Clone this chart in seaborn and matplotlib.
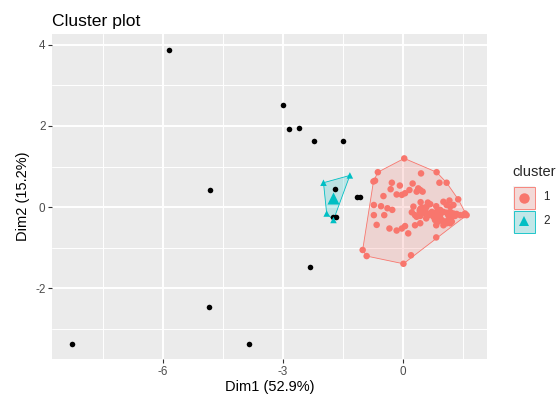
import numpy as np
import pandas as pd
import matplotlib
matplotlib.use("Agg")
import matplotlib.pyplot as plt
from matplotlib.colors import to_rgba
from matplotlib.patches import Rectangle
from matplotlib.lines import Line2D
import seaborn as sns

# noise points (no cluster), drawn in black
noise_x = [-5.85, -4.84, -2.99, -2.86, -2.59, -2.22, -1.49, -1.71, -1.15, -1.08,
           -1.74, -1.67, -2.32, -4.85, -8.28, -3.85]
noise_y = [3.88, 0.41, 2.52, 1.92, 1.94, 1.63, 1.63, 0.44, 0.24, 0.24,
           -0.25, -0.25, -1.47, -2.47, -3.38, -3.39]

# cluster 1
c1_x = [0.03, -0.63, -0.74, -1.01, -0.91, 0.01, 0.20, 0.83, 1.59, 1.38, 0.84,
        -0.70, -0.28, -0.08, 0.24, 0.45, 0.91, 1.09, -0.31, 0.16, -0.16, -0.03,
        0.05, 0.34, 0.43, 0.49, 0.38, -0.49, -0.73, -0.55, -0.39, -0.27, 0.26,
        0.44, 0.22, -0.73, -0.47, -0.66, -0.34, -0.16, -0.03, 0.05, 0.13, 0.30,
        0.43, 0.62, 0.68, 0.59, 0.83, 1.01, 1.16, 1.09, 1.18, 1.26, 0.51, 0.55,
        0.72, 0.84, 0.93, 1.01, 1.09, 1.18, 1.26, 1.34, 1.43, 1.51, 1.55, 1.30,
        1.22, 1.13, 0.80, 0.88, 0.97, 1.05, 1.13, 1.22, 0.83, 1.01, 1.09, 1.18,
        0.84, 0.93, 0.76, 0.68, 0.64, 0.58, 0.34, 0.43, 0.30]
c1_y = [1.20, 0.86, 0.63, -1.06, -1.21, -1.40, -1.19, -0.75, -0.20, 0.19, 0.86,
        0.65, 0.60, 0.53, 0.58, 0.83, 0.60, 0.60, 0.44, 0.42, 0.31, 0.30,
        0.34, 0.38, 0.42, 0.38, 0.46, 0.27, 0.05, 0.02, -0.03, -0.07, 0.01,
        0.12, -0.13, -0.20, -0.20, -0.44, -0.53, -0.58, -0.53, -0.47, -0.65, -0.45,
        -0.40, 0.11, 0.07, 0.01, 0.02, 0.13, 0.16, 0.05, 0.01, 0.05, -0.12, -0.07,
        -0.12, -0.12, -0.07, -0.12, -0.14, -0.12, -0.16, -0.17, -0.20, -0.20, -0.16, -0.22,
        -0.24, -0.20, -0.32, -0.36, -0.32, -0.36, -0.32, -0.36, -0.45, -0.45, -0.40, -0.40,
        -0.24, -0.20, -0.24, -0.16, -0.20, -0.28, -0.24, -0.22, -0.20]

# cluster 2
c2_x = [-1.99, -1.33, -1.91, -1.74]
c2_y = [0.60, 0.78, -0.16, -0.32]

cluster_labels = ["1", "2"]
cluster_colors = ["#F8766D", "#00BFC4"]
cluster_markers = ["o", "^"]

x_label = "Dim1 (52.9%)"
y_label = "Dim2 (15.2%)"
title = "Cluster plot"


def convex_hull(xs, ys):
    pts = sorted(set(zip(xs, ys)))

    def cross(o, a, b):
        return (a[0] - o[0]) * (b[1] - o[1]) - (a[1] - o[1]) * (b[0] - o[0])

    lower = []
    for p in pts:
        while len(lower) >= 2 and cross(lower[-2], lower[-1], p) <= 0:
            lower.pop()
        lower.append(p)
    upper = []
    for p in reversed(pts):
        while len(upper) >= 2 and cross(upper[-2], upper[-1], p) <= 0:
            upper.pop()
        upper.append(p)
    hull = lower[:-1] + upper[:-1]
    return [p[0] for p in hull], [p[1] for p in hull]


sns.set_theme(style="darkgrid", rc={
    "axes.facecolor": "#EBEBEB",
    "grid.color": "white",
})
plt.rcParams["font.family"] = ["Liberation Sans", "DejaVu Sans"]
plt.rcParams["axes.unicode_minus"] = False

df = pd.DataFrame({
    "Dim1": c1_x + c2_x,
    "Dim2": c1_y + c2_y,
    "cluster": ["1"] * len(c1_x) + ["2"] * len(c2_x),
})
noise = pd.DataFrame({"Dim1": noise_x, "Dim2": noise_y})

fig = plt.figure(figsize=(5.6, 4.01), dpi=100)
ax = fig.add_axes([52 / 560, 1 - 359 / 401, 435 / 560, 325 / 401])

# hulls
for lab, col in zip(cluster_labels, cluster_colors):
    sub = df[df["cluster"] == lab]
    hx, hy = convex_hull(list(sub["Dim1"]), list(sub["Dim2"]))
    ax.fill(hx, hy, facecolor=to_rgba(col, 0.2), edgecolor=col, linewidth=0.6, zorder=2)

sns.scatterplot(data=noise, x="Dim1", y="Dim2", color="black", s=16,
                linewidth=0, ax=ax, zorder=3, legend=False)
sns.scatterplot(data=df, x="Dim1", y="Dim2", hue="cluster", style="cluster",
                palette=dict(zip(cluster_labels, cluster_colors)),
                markers=dict(zip(cluster_labels, cluster_markers)),
                s=22, linewidth=0, ax=ax, zorder=4, legend=False)

# cluster centres
centres = df.groupby("cluster")[["Dim1", "Dim2"]].mean()
for lab, col, mk in zip(cluster_labels, cluster_colors, cluster_markers):
    ax.scatter(centres.loc[lab, "Dim1"], centres.loc[lab, "Dim2"], s=75,
               color=col, marker=mk, linewidth=0, zorder=5)

ax.set_xlim(-8.78, 2.1)
ax.set_ylim(-3.75, 4.27)
ax.set_xticks([-6, -3, 0])
ax.set_yticks([-2, 0, 2, 4])
ax.set_xticks([-7.5, -4.5, -1.5, 1.5], minor=True)
ax.set_yticks([-3, -1, 1, 3], minor=True)
ax.grid(which="major", color="white", linewidth=1.4)
ax.grid(which="minor", color="white", linewidth=0.7)
ax.tick_params(which="major", length=2.7, width=0.8, color="#333333",
               labelsize=8.4, labelcolor="#4D4D4D", pad=2, bottom=True, left=True)
ax.tick_params(which="minor", length=0)
for s in ax.spines.values():
    s.set_visible(False)
ax.set_xlabel(x_label, fontsize=10.5, color="black", labelpad=2)
ax.set_ylabel(y_label, fontsize=10.5, color="black", labelpad=4)
ax.set_title(title, loc="left", fontsize=12.6, color="black", pad=6)


def fx(px):
    return px / 560


def fy(py):
    return 1 - py / 401


# legend drawn by hand, ggplot style
fig.text(fx(512), fy(172), "cluster", fontsize=10.5, va="center", ha="left")
key_tops = [186, 210]
for top, lab, col, mk in zip(key_tops, cluster_labels, cluster_colors, cluster_markers):
    fig.add_artist(Rectangle((fx(513), fy(top + 23)), 22 / 560, 23 / 401,
                             transform=fig.transFigure, facecolor="#F2F2F2",
                             edgecolor="none"))
    fig.add_artist(Rectangle((fx(513.5), fy(top + 22.5)), 21 / 560, 22 / 401,
                             transform=fig.transFigure, facecolor=to_rgba(col, 0.2),
                             edgecolor=col, linewidth=0.6))
    fig.add_artist(Line2D([fx(524)], [fy(top + 11.5)], transform=fig.transFigure,
                          marker=mk, markersize=7.5, color=col, markeredgewidth=0,
                          linestyle="none"))
    fig.text(fx(543), fy(top + 11.5), lab, fontsize=8.4, va="center", ha="left")

fig.savefig("out.png", dpi=100)
